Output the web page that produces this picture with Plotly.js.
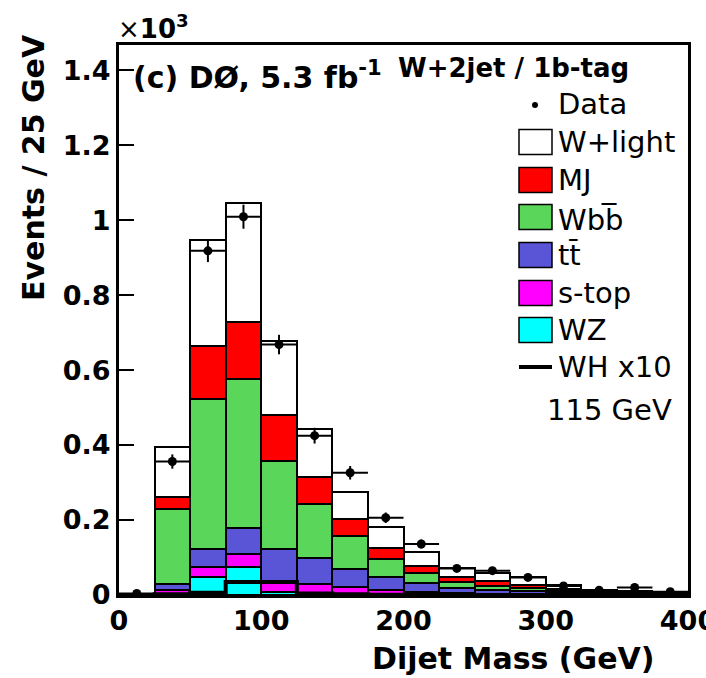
<!DOCTYPE html>
<html><head><meta charset="utf-8">
<script src="https://cdn.plot.ly/plotly-3.0.1.min.js"></script>
<style>body{margin:0;background:#fff}#chart{width:706px;height:678px}</style>
</head><body><div id="chart"></div>
<script>
// Dijet mass bins (GeV), 25 GeV wide; values in units of 10^3 events
const binCenters = [12.5, 37.5, 62.5, 87.5, 112.5, 137.5, 162.5, 187.5, 212.5, 237.5, 262.5, 287.5, 312.5, 337.5, 362.5, 387.5];
const binEdges   = [0, 25, 50, 75, 100, 125, 150, 175, 200, 225, 250, 275, 300, 325, 350, 375, 400];
const wz     = [0, 0.004, 0.048, 0.075, 0.008, 0.004, 0.003, 0.002, 0.001, 0.001, 0.001, 0, 0, 0, 0, 0];
const stop   = [0, 0.009, 0.027, 0.034, 0.024, 0.026, 0.018, 0.011, 0.008, 0.005, 0.003, 0.003, 0.002, 0.001, 0.001, 0.0005];
const ttbar  = [0, 0.017, 0.047, 0.071, 0.092, 0.070, 0.048, 0.034, 0.022, 0.014, 0.009, 0.007, 0.004, 0.003, 0.002, 0.0015];
const wbb    = [0, 0.199, 0.402, 0.395, 0.234, 0.143, 0.088, 0.048, 0.029, 0.016, 0.012, 0.008, 0.004, 0.002, 0.002, 0.002];
const mj     = [0, 0.033, 0.141, 0.152, 0.122, 0.073, 0.047, 0.031, 0.018, 0.011, 0.012, 0.010, 0.005, 0.003, 0.003, 0.002];
const wlight = [0, 0.132, 0.282, 0.319, 0.198, 0.126, 0.072, 0.056, 0.036, 0.026, 0.021, 0.019, 0.012, 0.004, 0.004, 0.002];
const whx10  = [0, 0.002, 0.006, 0.035, 0.035, 0.004, 0.002, 0.001, 0, 0, 0, 0, 0, 0, 0, 0];
const data    = [0.004, 0.356, 0.918, 1.009, 0.668, 0.425, 0.326, 0.206, 0.136, 0.071, 0.065, 0.047, 0.024, 0.013, 0.020, 0.009];
const dataErr = [0.002, 0.019, 0.030, 0.032, 0.026, 0.021, 0.018, 0.014, 0.012, 0.008, 0.008, 0.007, 0.005, 0.004, 0.004, 0.003];
const halfBin = [12.5, 12.5, 12.5, 12.5, 12.5, 12.5, 12.5, 12.5, 12.5, 12.5, 12.5, 12.5, 12.5, 12.5, 12.5, 12.5];
const xTicks = [0, 100, 200, 300, 400];
const yTicks = [0, 0.2, 0.4, 0.6, 0.8, 1, 1.2, 1.4];
const yTickText = ['0', '0.2', '0.4', '0.6', '0.8', '1', '1.2', '1.4'];

const bgNames  = ['WZ', 's-top', 't\u0074\u0304', 'Wbb\u0305', 'MJ', 'W+light'];
const bgSeries = [wz, stop, ttbar, wbb, mj, wlight];
const bgColors = ['#00ffff', '#ff00ff', '#5a55d6', '#5ad65a', '#ff0000', '#ffffff'];

const FONT = 'DejaVu Sans, Liberation Sans, Arial, sans-serif';

const traces = bgSeries.map((vals, i) => ({
  type: 'bar', x: binCenters, y: vals, width: 25, name: bgNames[i],
  marker: {color: bgColors[i], line: {color: '#000', width: 2}},
  showlegend: false, hoverinfo: 'skip'
}));

traces.push({
  type: 'scatter', mode: 'lines', x: binEdges, y: whx10.concat([whx10[whx10.length - 1]]),
  line: {shape: 'hv', color: '#000', width: 4}, showlegend: false, hoverinfo: 'skip'
});

traces.push({
  type: 'scatter', mode: 'markers', x: binCenters, y: data,
  marker: {color: '#000', size: 9},
  error_y: {type: 'data', array: dataErr, visible: true, color: '#000', thickness: 2, width: 0},
  error_x: {type: 'data', array: halfBin, visible: true, color: '#000', thickness: 2, width: 0},
  showlegend: false, cliponaxis: false
});

// plot area in pixels: x 119..688, y 45..595
const L = 119, R = 688, T = 45, B = 595;
const px = x => (x - L) / (R - L);
const py = y => (B - y) / (B - T);

const annotations = [];
const shapes = [];
function txt(text, x, y, size, opts) {
  annotations.push(Object.assign({
    text: text, x: px(x), y: py(y), xref: 'paper', yref: 'paper',
    xanchor: 'left', yanchor: 'middle', showarrow: false,
    font: {family: FONT, size: size, color: '#000'}
  }, opts || {}));
}

txt('×<b>10</b><sup><b>3</b></sup>', 116, 27, 26);
txt('<b>(c) DØ, 5.3 fb</b><sup><b>-1</b></sup>', 131, 75, 30);
txt('<b>W+2jet / 1b-tag</b>', 396, 68, 26);

// legend
const legText = ['W+light', 'MJ', 'Wbb\u0305', 't\u0074\u0304', 's-top', 'WZ'];
const legColor = ['#ffffff', '#ff0000', '#5ad65a', '#5a55d6', '#ff00ff', '#00ffff'];
const legY = [142, 180, 217, 255, 293, 330];
legText.forEach((t, i) => {
  shapes.push({type: 'rect', xref: 'paper', yref: 'paper',
    x0: px(519), x1: px(552), y0: py(legY[i] + 12.5), y1: py(legY[i] - 12.5),
    fillcolor: legColor[i], line: {color: '#000', width: 1.5}});
  txt(t, 556, legY[i] + (i === 2 ? 3 : 0), 29);
});
shapes.push({type: 'circle', xref: 'paper', yref: 'paper',
  x0: px(532), x1: px(538), y0: py(108), y1: py(102), fillcolor: '#000', line: {color: '#000', width: 0}});
txt('Data', 556, 104, 29);
shapes.push({type: 'line', xref: 'paper', yref: 'paper',
  x0: px(519), x1: px(552), y0: py(367), y1: py(367), line: {color: '#000', width: 4}});
txt('WH x10', 556, 367, 29);
txt('115 GeV', 545, 410, 29);

// axis titles
txt('<b>Events / 25 GeV</b>', 33, 168, 30, {textangle: -90, xanchor: 'center'});
txt('<b>Dijet Mass (GeV)</b>', 656, 658, 30, {xanchor: 'right'});

const layout = {
  width: 706, height: 678,
  margin: {l: L, r: 706 - R, t: T, b: 678 - B, pad: 0},
  paper_bgcolor: '#fff', plot_bgcolor: '#fff',
  barmode: 'stack', bargap: 0,
  font: {family: FONT, color: '#000'},
  xaxis: {
    range: [0, 400], tickvals: xTicks, ticks: '',
    tickfont: {family: FONT, size: 27, weight: 'bold'},
    showgrid: false, zeroline: false, showline: true, linecolor: '#000', linewidth: 3,
    mirror: true, ticklabeloverflow: 'allow', fixedrange: true
  },
  yaxis: {
    range: [0, 1.467], tickvals: yTicks, ticktext: yTickText,
    ticks: 'inside', ticklen: 15, tickwidth: 2, tickcolor: '#000',
    tickfont: {family: FONT, size: 27, weight: 'bold'},
    showgrid: false, zeroline: false, showline: true, linecolor: '#000', linewidth: 3,
    mirror: true, fixedrange: true
  },
  annotations: annotations, shapes: shapes, showlegend: false
};

Plotly.newPlot('chart', traces, layout, {staticPlot: true});
</script>
</body></html>
